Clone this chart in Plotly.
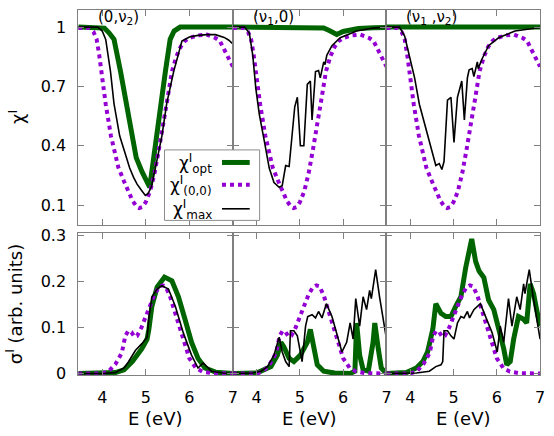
import plotly.graph_objects as go

# ---------------- data ----------------
# energy axis ticks / labels
x_tick_vals = [4, 5, 6, 7]
x_tick_text = ["4", "5", "6", "7"]
chi_tick_vals = [0.1, 0.4, 0.7, 1.0]
chi_tick_text = ["0.1", "0.4", "0.7", "1"]
sig_tick_vals = [0.0, 0.1, 0.2, 0.3]
sig_tick_text = ["0", "0.1", "0.2", "0.3"]

panel_labels = ["(0,ν<sub>2</sub>)", "(ν<sub>1</sub>,0)", "(ν<sub>1</sub> ,ν<sub>2</sub>)"]

# chi^I_(0,0)  (same reference curve in all panels)
E_chi00 = [3.45, 3.7, 3.8, 3.87, 3.93, 3.98, 4.08, 4.2, 4.37, 4.5, 4.6, 4.7, 4.8, 4.85, 4.92,
           5.0, 5.1, 5.2, 5.3, 5.4, 5.5, 5.6, 5.7, 5.8, 5.9, 6.0, 6.2, 6.4, 6.6, 6.7, 6.8, 6.9, 7.0]
chi00 = [0.995, 0.995, 0.975, 0.94, 0.86, 0.775, 0.61, 0.45, 0.29, 0.22, 0.165, 0.12, 0.09, 0.085, 0.09,
         0.115, 0.17, 0.26, 0.38, 0.5, 0.64, 0.775, 0.85, 0.9, 0.93, 0.945, 0.958, 0.962, 0.945, 0.93, 0.89, 0.85, 0.80]

# panel (0,nu2)
E_chiopt_a = [3.45, 3.95, 4.05, 4.16, 4.27, 4.42, 4.56, 4.69, 4.78, 4.91, 5.04, 5.09, 5.17, 5.26,
              5.35, 5.45, 5.56, 5.65, 5.79, 6.0, 7.0]
chiopt_a = [1.0, 1.0, 0.995, 0.97, 0.938, 0.775, 0.613, 0.45, 0.34, 0.27, 0.214, 0.19, 0.32, 0.45,
            0.613, 0.775, 0.938, 0.98, 1.0, 1.0, 1.0]
E_chimax_a = [3.45, 3.9, 4.0, 4.08, 4.19, 4.27, 4.40, 4.52, 4.63, 4.72, 4.80, 4.9, 4.99, 5.06, 5.14,
              5.22, 5.37, 5.48, 5.64, 5.83, 6.0, 6.2, 6.4, 6.6, 6.8, 6.9, 7.0]
chimax_a = [1.0, 1.0, 0.98, 0.938, 0.775, 0.613, 0.45, 0.36, 0.287, 0.24, 0.206, 0.175, 0.149, 0.16, 0.2,
            0.287, 0.45, 0.613, 0.775, 0.93, 0.95, 0.958, 0.962, 0.962, 0.948, 0.935, 0.915]

# panel (nu1,0)
E_chiopt_b = [3.45, 5.4, 5.55, 5.7, 5.85, 6.0, 6.15, 6.35, 6.7, 7.0]
chiopt_b = [1.0, 1.0, 0.995, 0.98, 0.963, 0.978, 0.987, 0.993, 0.997, 0.998]
E_chimax_b = [3.45, 3.72, 3.83, 3.91, 3.98, 4.06, 4.18, 4.29, 4.40, 4.52, 4.59, 4.67, 4.75, 4.82, 4.88,
              4.94, 5.01, 5.09, 5.17, 5.24, 5.28, 5.36, 5.43, 5.47, 5.55, 5.58, 5.62, 5.74, 5.93, 6.31,
              6.69, 7.0]
chimax_b = [1.0, 1.0, 0.97, 0.857, 0.69, 0.56, 0.42, 0.287, 0.214, 0.19, 0.198, 0.30, 0.295, 0.45, 0.597,
            0.645, 0.40, 0.40, 0.71, 0.727, 0.53, 0.775, 0.78, 0.743, 0.824, 0.81, 0.857, 0.906, 0.946, 0.98,
            0.995, 1.0]

# panel (nu1,nu2)
E_chiopt_c = [3.45, 4.0, 5.0, 6.0, 7.0]
chiopt_c = [1.0, 1.0, 1.0, 1.0, 1.0]
E_chimax_c = [3.45, 3.75, 3.87, 3.98, 4.10, 4.21, 4.37, 4.52, 4.59, 4.67, 4.73, 4.78, 4.86, 4.94, 5.01,
              5.09, 5.16, 5.19, 5.25, 5.32, 5.36, 5.43, 5.47, 5.55, 5.57, 5.66, 5.81, 6.04, 6.42, 7.0]
chimax_c = [1.0, 1.0, 0.955, 0.857, 0.743, 0.61, 0.48, 0.35, 0.30, 0.31, 0.28, 0.32, 0.63, 0.645, 0.417,
            0.645, 0.71, 0.727, 0.53, 0.743, 0.784, 0.79, 0.75, 0.824, 0.79, 0.84, 0.906, 0.946, 0.98, 0.998]

# sigma^I_(0,0) (same in all panels)
E_sig00 = [3.45, 4.0, 4.15, 4.3, 4.45, 4.53, 4.6, 4.67, 4.74, 4.8, 4.9, 5.0, 5.1, 5.2, 5.3, 5.38, 5.45,
           5.55, 5.7, 5.85, 6.0, 6.15, 6.3, 6.5, 7.0]
sig00 = [0.0, 0.0, 0.005, 0.02, 0.045, 0.082, 0.093, 0.09, 0.08, 0.082, 0.1, 0.125, 0.15, 0.172, 0.188,
         0.192, 0.19, 0.17, 0.124, 0.075, 0.033, 0.012, 0.004, 0.001, 0.0]

E_sigopt_a = [3.45, 4.0, 4.3, 4.5, 4.69, 4.91, 5.03, 5.07, 5.14, 5.26, 5.43, 5.6, 5.75, 5.9, 6.05, 6.2,
              6.36, 6.6, 7.0]
sigopt_a = [0.0, 0.0, 0.002, 0.008, 0.026, 0.054, 0.075, 0.096, 0.146, 0.188, 0.21, 0.202, 0.167, 0.118,
            0.068, 0.033, 0.012, 0.003, 0.0]
E_sigmax_a = [3.45, 4.0, 4.3, 4.5, 4.6, 4.69, 4.76, 4.91, 5.03, 5.07, 5.14, 5.26, 5.37, 5.52, 5.68, 5.86,
              6.05, 6.2, 6.32, 6.51, 6.77, 7.0]
sigmax_a = [0.0, 0.0, 0.002, 0.012, 0.025, 0.04, 0.05, 0.065, 0.079, 0.12, 0.167, 0.184, 0.191, 0.184,
            0.146, 0.089, 0.04, 0.012, 0.023, 0.005, 0.001, 0.0]

E_sigopt_b = [3.45, 4.0, 4.33, 4.48, 4.56, 4.63, 4.75, 4.86, 5.01, 5.17, 5.24, 5.32, 5.40, 5.55, 5.8,
              6.16, 6.27, 6.31, 6.38, 6.46, 6.58, 6.69, 6.73, 6.81, 6.88, 7.0]
sigopt_b = [0.0, 0.001, 0.015, 0.04, 0.068, 0.058, 0.033, 0.026, 0.04, 0.068, 0.096, 0.054, 0.019, 0.005,
            0.001, 0.0, 0.005, 0.11, 0.04, 0.008, 0.005, 0.068, 0.11, 0.054, 0.012, 0.0]
E_sigmax_b = [3.45, 3.9, 4.10, 4.25, 4.40, 4.52, 4.59, 4.67, 4.75, 4.78, 4.86, 4.94, 5.05, 5.13, 5.18,
              5.28, 5.36, 5.43, 5.51, 5.61, 5.74, 5.85, 5.97, 6.08, 6.16, 6.23, 6.29, 6.38, 6.46, 6.54,
              6.61, 6.65, 6.75, 6.84, 6.92, 7.0]
sigmax_b = [0.0, 0.001, 0.005, 0.015, 0.04, 0.079, 0.047, 0.026, 0.015, 0.093, 0.093, 0.082, 0.026, 0.103,
            0.124, 0.128, 0.121, 0.135, 0.121, 0.152, 0.124, 0.089, 0.047, 0.068, 0.11, 0.075, 0.163,
            0.103, 0.167, 0.139, 0.181, 0.163, 0.226, 0.167, 0.124, 0.075]

E_sigopt_c = [3.45, 3.91, 4.14, 4.29, 4.40, 4.52, 4.59, 4.71, 4.82, 4.94, 5.05, 5.17, 5.28, 5.42, 5.51,
              5.59, 5.70, 5.81, 5.93, 6.04, 6.16, 6.23, 6.31, 6.39, 6.50, 6.62, 6.69, 6.77, 6.85, 6.92, 7.0]
sigopt_c = [0.0, 0.002, 0.012, 0.026, 0.047, 0.096, 0.152, 0.131, 0.124, 0.124, 0.146, 0.167, 0.23, 0.293,
            0.244, 0.223, 0.209, 0.16, 0.139, 0.103, 0.054, 0.019, 0.026, 0.075, 0.124, 0.118, 0.11,
            0.195, 0.174, 0.139, 0.103]
E_sigmax_c = [3.45, 4.14, 4.44, 4.59, 4.71, 4.75, 4.78, 4.86, 4.94, 5.01, 5.09, 5.17, 5.24, 5.32, 5.37,
              5.47, 5.62, 5.74, 5.89, 6.01, 6.08, 6.16, 6.27, 6.35, 6.46, 6.54, 6.62, 6.65, 6.75, 6.84,
              6.92, 7.0]
sigmax_c = [0.0, 0.001, 0.005, 0.015, 0.019, 0.026, 0.093, 0.093, 0.082, 0.075, 0.11, 0.124, 0.121, 0.135,
            0.121, 0.139, 0.152, 0.124, 0.089, 0.047, 0.103, 0.068, 0.163, 0.103, 0.167, 0.139, 0.195,
            0.174, 0.226, 0.167, 0.124, 0.075]

legend_labels = ["χ<sup>I</sup><sub>opt</sub>", "χ<sup>I</sup><sub>(0,0)</sub>", "χ<sup>I</sup><sub>max</sub>"]

# ---------------- figure ----------------
W, H = 554, 436
GREEN = "#006400"
PURPLE = "#9400D3"
BLACK = "#000000"
AXC = "#808080"
FONT = "DejaVu Sans"


def fx(p):
    return p / W


def fy(p):
    return 1 - p / H


panels_x = [(79, 235), (235, 390), (390, 545)]
top_y = (3, 226)
bot_y = (234, 381)

top_data = [
    (E_chiopt_a, chiopt_a, E_chimax_a, chimax_a),
    (E_chiopt_b, chiopt_b, E_chimax_b, chimax_b),
    (E_chiopt_c, chiopt_c, E_chimax_c, chimax_c),
]
bot_data = [
    (E_sigopt_a, sigopt_a, E_sigmax_a, sigmax_a),
    (E_sigopt_b, sigopt_b, E_sigmax_b, sigmax_b),
    (E_sigopt_c, sigopt_c, E_sigmax_c, sigmax_c),
]

fig = go.Figure()
layout = {}

common = dict(showline=True, linecolor=AXC, linewidth=1, mirror="ticks", ticks="inside", ticklen=6,
              tickcolor=AXC, tickwidth=1, showgrid=False, zeroline=False,
              tickfont=dict(family=FONT, size=16, color="black"))


def add_panel(idx, xd, yd, yrange, ytv, ytt, show_xlab, show_ylab, data, ref_E, ref_v):
    xa = "x" if idx == 1 else f"x{idx}"
    ya = "y" if idx == 1 else f"y{idx}"
    E_o, v_o, E_m, v_m = data
    fig.add_trace(go.Scatter(x=E_o, y=v_o, mode="lines", line=dict(color=GREEN, width=5),
                             xaxis=xa, yaxis=ya, showlegend=False))
    fig.add_trace(go.Scatter(x=ref_E, y=ref_v, mode="lines", line=dict(color=PURPLE, width=4, dash="dot"),
                             xaxis=xa, yaxis=ya, showlegend=False))
    fig.add_trace(go.Scatter(x=E_m, y=v_m, mode="lines", line=dict(color=BLACK, width=1.6),
                             xaxis=xa, yaxis=ya, showlegend=False))
    kx = "xaxis" if idx == 1 else f"xaxis{idx}"
    ky = "yaxis" if idx == 1 else f"yaxis{idx}"
    layout[kx] = dict(common, domain=[fx(xd[0]), fx(xd[1])], range=[3.45, 7.0], anchor=ya,
                      tickvals=x_tick_vals, ticktext=x_tick_text, showticklabels=show_xlab,
                      ticklabelstandoff=8)
    layout[ky] = dict(common, domain=[fy(yd[1]), fy(yd[0])], range=yrange, anchor=xa,
                      tickvals=ytv, ticktext=ytt, showticklabels=show_ylab, ticklabelstandoff=8)


for i in range(3):
    add_panel(i + 1, panels_x[i], top_y, [-0.002, 1.087], chi_tick_vals, chi_tick_text, False, i == 0,
              top_data[i], E_chi00, chi00)
for i in range(3):
    add_panel(i + 4, panels_x[i], bot_y, [-0.003, 0.306], sig_tick_vals, sig_tick_text, True, i == 0,
              bot_data[i], E_sig00, sig00)

annotations = []
shapes = []

# panel labels
for i, lab in enumerate(panel_labels):
    annotations.append(dict(text=lab, x=fx(panels_x[i][0] + 18), y=fy(11), xref="paper", yref="paper",
                            xanchor="left", yanchor="middle", showarrow=False,
                            font=dict(family=FONT, size=15, color="black")))

# axis titles
annotations.append(dict(text="χ<sup>I</sup>", x=fx(17), y=fy(114), xref="paper", yref="paper",
                        textangle=-90, showarrow=False, xanchor="center", yanchor="middle",
                        font=dict(family=FONT, size=18, color="black")))
annotations.append(dict(text="σ<sup>I</sup> (arb. units)", x=fx(15), y=fy(308), xref="paper", yref="paper",
                        textangle=-90, showarrow=False, xanchor="center", yanchor="middle",
                        font=dict(family=FONT, size=18, color="black")))
for i in range(3):
    cx = (panels_x[i][0] + panels_x[i][1]) / 2
    annotations.append(dict(text="E (eV)", x=fx(cx), y=fy(426), xref="paper", yref="paper",
                            showarrow=False, xanchor="center", yanchor="middle",
                            font=dict(family=FONT, size=18, color="black")))

# custom legend (gnuplot style: text right, sample left)
shapes.append(dict(type="rect", xref="paper", yref="paper", x0=fx(166), x1=fx(262), y0=fy(221), y1=fy(148),
                   line=dict(color="#8c8c8c", width=1), fillcolor="white", layer="above"))
rows = [161, 184, 209]
styles = [dict(color=GREEN, width=5), dict(color=PURPLE, width=4, dash="dot"), dict(color=BLACK, width=1.6)]
for r, lab, st in zip(rows, legend_labels, styles):
    shapes.append(dict(type="line", xref="paper", yref="paper", x0=fx(224), x1=fx(252), y0=fy(r), y1=fy(r),
                       line=st, layer="above"))
    annotations.append(dict(text=lab, x=fx(216), y=fy(r + 1), xref="paper", yref="paper", xanchor="right",
                            yanchor="middle", showarrow=False, font=dict(family=FONT, size=17, color="black")))

fig.update_layout(**layout)
fig.update_layout(width=W, height=H, margin=dict(l=0, r=0, t=0, b=0), paper_bgcolor="white",
                  plot_bgcolor="white", showlegend=False, annotations=annotations, shapes=shapes,
                  font=dict(family=FONT))

fig.write_html("out.html")
